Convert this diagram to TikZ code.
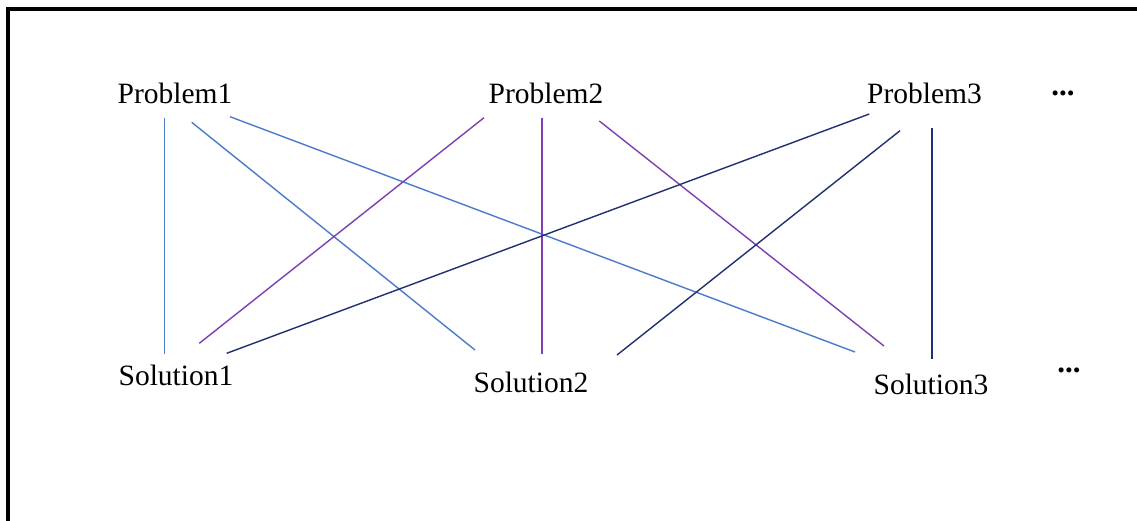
\documentclass[tikz,border=0pt]{standalone}
\usepackage{fontspec}
\setmainfont{Liberation Serif}
\definecolor{lblue}{HTML}{4A7CCB}
\definecolor{lpurple}{HTML}{7D3FB5}
\definecolor{lnavy}{HTML}{1F3170}
\tikzset{
  lbl/.style={inner sep=0pt, anchor=base, font=\fontsize{29.5}{35}\selectfont},
  dots/.style={inner sep=0pt, anchor=center, font=\fontsize{31}{35}\selectfont\bfseries},
  conn/.style={line width=1.4pt},
  frame/.style={line width=3.2pt, black}
}
\begin{document}
\begin{tikzpicture}[x=1pt,y=-1pt]
\useasboundingbox (0,0) rectangle (1137,520);
\fill[white] (0,0) rectangle (1137,520);
\draw[frame] (8,530) -- (8,9) -- (1147,9);
% labels
\node[lbl] (p1) at (175,103) {Problem1};
\node[lbl] (p2) at (546,103) {Problem2};
\node[lbl] (p3) at (924.5,103) {Problem3};
\node[dots] (d1) at (1063,93) {...};
\node[lbl] (s1) at (176,385) {Solution1};
\node[lbl] (s2) at (531,392) {Solution2};
\node[lbl] (s3) at (931,394) {Solution3};
\node[dots] (d2) at (1069,370) {...};
% connector ends
\coordinate (p1a) at (164.3,117.7);
\coordinate (p1b) at (191.7,122.3);
\coordinate (p1c) at (230,116.7);
\coordinate (p2a) at (484,117.7);
\coordinate (p2b) at (542,117.7);
\coordinate (p2c) at (599.3,121);
\coordinate (p3a) at (869.3,114);
\coordinate (p3b) at (900,130.7);
\coordinate (p3c) at (932,127.7);
\coordinate (s1a) at (164.3,354);
\coordinate (s1b) at (199.3,343.3);
\coordinate (s1c) at (226.7,353.3);
\coordinate (s2a) at (475,350);
\coordinate (s2b) at (542,354);
\coordinate (s2c) at (617,355);
\coordinate (s3a) at (855,352);
\coordinate (s3b) at (884,346);
\coordinate (s3c) at (932,359);
% connectors
\draw[conn,lblue] (p1a) -- (s1a);
\draw[conn,lblue] (p1b) -- (s2a);
\draw[conn,lblue] (p1c) -- (s3a);
\draw[conn,lpurple] (p2a) -- (s1b);
\draw[conn,lpurple] (p2b) -- (s2b);
\draw[conn,lpurple] (p2c) -- (s3b);
\draw[conn,lnavy] (p3a) -- (s1c);
\draw[conn,lnavy] (p3b) -- (s2c);
\draw[conn,lnavy] (p3c) -- (s3c);
\end{tikzpicture}
\end{document}
